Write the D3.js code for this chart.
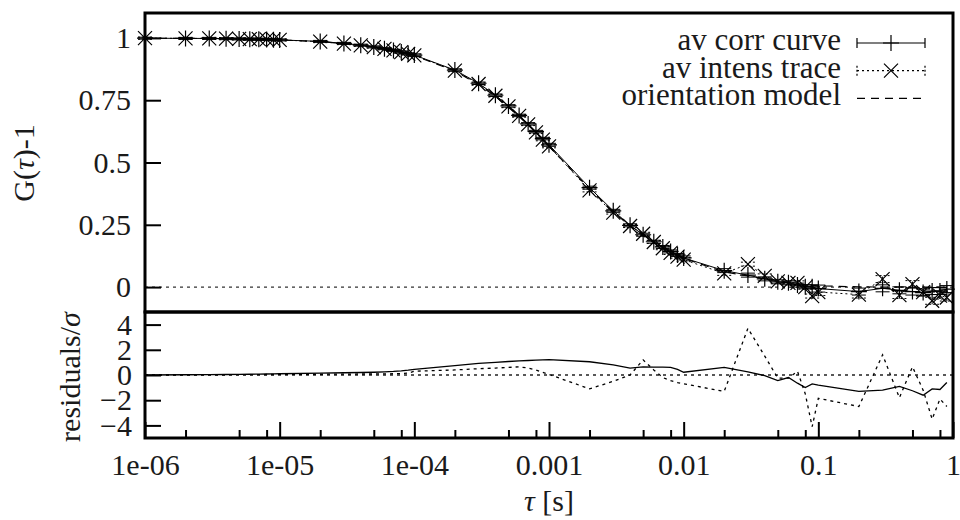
<!DOCTYPE html>
<html>
<head>
<meta charset="utf-8">
<script src="https://cdnjs.cloudflare.com/ajax/libs/d3/7.8.5/d3.min.js"></script>
<style>
body{margin:0;background:#fff}
svg{display:block}
</style>
</head>
<body>
<div class="canvas"></div>
<script>
// lag times, 1..9 per decade
const tau = [1e-6,2e-6,3e-6,4e-6,5e-6,6e-6,7e-6,8e-6,9e-6,
             1e-5,2e-5,3e-5,4e-5,5e-5,6e-5,7e-5,8e-5,9e-5,
             1e-4,2e-4,3e-4,4e-4,5e-4,6e-4,7e-4,8e-4,9e-4,
             0.001,0.002,0.003,0.004,0.005,0.006,0.007,0.008,0.009,
             0.01,0.02,0.03,0.04,0.05,0.06,0.07,0.08,0.09,
             0.1,0.2,0.3,0.4,0.5,0.6,0.7,0.8,0.9]
const model = [0.999,0.998,0.998,0.997,0.996,0.995,0.995,0.994,0.993,
               0.992,0.985,0.977,0.970,0.963,0.956,0.949,0.942,0.935,
               0.929,0.867,0.813,0.765,0.722,0.684,0.650,0.619,0.591,
               0.565,0.394,0.302,0.245,0.206,0.178,0.157,0.140,0.126,
               0.115,0.061,0.045,0.033,0.025,0.019,0.014,0.010,0.007,
               0.005,0.001,0.000,0.000,0.000,0.000,0.000,0.000,0.000]
const corr = [0.999,0.998,0.998,0.997,0.996,0.995,0.995,0.994,0.993,
              0.992,0.986,0.978,0.971,0.964,0.957,0.950,0.943,0.936,
              0.931,0.871,0.818,0.770,0.727,0.689,0.655,0.624,0.596,
              0.571,0.399,0.306,0.248,0.210,0.182,0.161,0.143,0.129,
              0.117,0.066,0.048,0.033,0.021,0.017,0.008,0.001,0.001,
              -0.006,-0.018,-0.005,-0.013,-0.018,-0.022,-0.016,-0.016,-0.008]
const intens = [0.999,0.998,0.998,0.997,0.996,0.995,0.995,0.994,0.993,
                0.992,0.985,0.977,0.970,0.963,0.956,0.950,0.943,0.936,
                0.930,0.869,0.815,0.768,0.725,0.687,0.653,0.621,0.592,
                0.565,0.388,0.299,0.245,0.214,0.181,0.156,0.137,0.122,
                0.110,0.055,0.092,0.045,0.023,0.017,0.017,0.000,-0.036,
                -0.020,-0.030,0.032,-0.032,0.012,-0.020,-0.055,-0.034,-0.042]
const errG = [0.004,0.004,0.004,0.004,0.004,0.004,0.004,0.004,0.004,
              0.004,0.004,0.004,0.004,0.004,0.004,0.004,0.004,0.004,
              0.005,0.005,0.005,0.005,0.005,0.005,0.005,0.005,0.005,
              0.006,0.006,0.006,0.006,0.006,0.006,0.006,0.006,0.006,
              0.008,0.008,0.008,0.008,0.008,0.008,0.008,0.008,0.008,
              0.014,0.014,0.014,0.014,0.014,0.014,0.014,0.014,0.014]
const resCorr = [0,0.02,0.03,0.04,0.05,0.06,0.07,0.08,0.09,
                 0.1,0.15,0.18,0.2,0.22,0.25,0.28,0.32,0.38,
                 0.45,0.75,0.92,1.0,1.07,1.12,1.15,1.18,1.2,
                 1.22,1.05,0.8,0.55,0.65,0.63,0.62,0.6,0.45,
                 0.22,0.6,0.25,-0.05,-0.45,-0.2,-0.65,-1.0,-0.7,
                 -0.8,-1.3,-1.2,-0.9,-1.25,-1.6,-1.1,-1.15,-0.6]
const resIntens = [0,0.01,0.02,0.02,0.03,0.03,0.03,0.04,0.04,
                   0.05,0.06,0.07,0.08,0.08,0.09,0.1,0.12,0.15,
                   0.3,0.4,0.5,0.55,0.6,0.65,0.55,0.4,0.2,
                   0.05,-1.1,-0.5,0.0,1.2,0.4,-0.2,-0.45,-0.6,
                   -0.7,-1.3,3.7,1.5,-0.25,-0.25,0.3,-1.5,-4.1,
                   -1.85,-2.5,1.6,-1.8,0.65,-1.2,-3.5,-1.9,-2.5]

const xTicks = [1e-6,1e-5,1e-4,1e-3,1e-2,1e-1,1]
const xTickLabels = ["1e-06","1e-05","1e-04","0.001","0.01","0.1","1"]
const minorMult = [2,5,8]
const gTicks = [0,0.25,0.5,0.75,1]
const gTickLabels = ["0","0.25","0.5","0.75","1"]
const resTicks = [-4,-2,0,2,4]
const legendLabels = ["av corr curve","av intens trace","orientation model"]

const dim = {width:960, height:520}
const box = {left:145, right:953, top:13, mid:312, bottom:438}
const fontSize = 30
const serif = "'Liberation Serif', 'Times New Roman', serif"
const ink = "#1a1a1a"

const svg = d3.select(".canvas").append("svg").attr("width",dim.width).attr("height",dim.height)
              .style("font-family",serif)

const x = d3.scaleLog().domain([1e-6,1]).range([box.left,box.right])
const yG = d3.scaleLinear().domain([-0.1,1.1]).range([box.mid,box.top])
const yR = d3.scaleLinear().domain([-5,5]).range([box.bottom,box.mid])

const pts = tau.map((t,i)=>({t, model:model[i], corr:corr[i], intens:intens[i], err:errG[i], rc:resCorr[i], ri:resIntens[i]}))

// zero lines
svg.append("line").attr("x1",box.left).attr("x2",box.right).attr("y1",yG(0)).attr("y2",yG(0))
   .attr("stroke","#333").attr("stroke-width",1.3).attr("stroke-dasharray","3,4")
svg.append("line").attr("x1",box.left).attr("x2",box.right).attr("y1",yR(0)).attr("y2",yR(0))
   .attr("stroke","#222").attr("stroke-width",1.5).attr("stroke-dasharray","3,4")

const lineOf = (key,ys) => d3.line().x(d=>x(d.t)).y(d=>ys(d[key]))

const upper = svg.append("g")
upper.append("path").datum(pts).attr("d",lineOf("intens",yG))
   .attr("fill","none").attr("stroke","#000").attr("stroke-width",1).attr("stroke-dasharray","2,3")
upper.append("path").datum(pts).attr("d",lineOf("corr",yG))
   .attr("fill","none").attr("stroke","#000").attr("stroke-width",1)
upper.append("path").datum(pts).attr("d",lineOf("model",yG))
   .attr("fill","none").attr("stroke","#000").attr("stroke-width",1.2).attr("stroke-dasharray","8,6")

const plusPath = "M-8,0H8M0,-8V8"
const crossPath = "M-7,-7L7,7M-7,7L7,-7"
const capW = 7

const errBars = (key,dash) => {
  const g = upper.append("g").attr("stroke","#000").attr("stroke-width",1).attr("fill","none")
  if(dash) g.attr("stroke-dasharray",dash)
  g.selectAll("path").data(pts).enter().append("path")
   .attr("d",d=>{
     const px = x(d.t), lo = yG(d[key]-d.err), hi = yG(d[key]+d.err)
     return `M${px},${lo}V${hi}M${px-capW},${lo}H${px+capW}M${px-capW},${hi}H${px+capW}`
   })
}
errBars("corr",null)
errBars("intens","2,2")

upper.append("g").selectAll("path").data(pts).enter().append("path")
   .attr("transform",d=>`translate(${x(d.t)},${yG(d.corr)})`)
   .attr("d",plusPath).attr("stroke","#000").attr("stroke-width",1.2)
upper.append("g").selectAll("path").data(pts).enter().append("path")
   .attr("transform",d=>`translate(${x(d.t)},${yG(d.intens)})`)
   .attr("d",crossPath).attr("stroke","#000").attr("stroke-width",1.2)

// residuals
svg.append("path").datum(pts).attr("d",lineOf("ri",yR))
   .attr("fill","none").attr("stroke","#000").attr("stroke-width",1.3).attr("stroke-dasharray","3,4")
svg.append("path").datum(pts).attr("d",lineOf("rc",yR))
   .attr("fill","none").attr("stroke","#000").attr("stroke-width",1.3)

// axes
const styleAxis = g => {
  g.select(".domain").remove()
  g.selectAll(".tick line").attr("stroke","#000").attr("stroke-width",2)
  g.selectAll("text").attr("fill",ink).style("font-family",serif)
  g.attr("font-size",fontSize).style("font-family",serif)
}
svg.append("g").attr("transform",`translate(${box.left},0)`)
   .call(d3.axisLeft(yG).tickValues(gTicks).tickFormat((d,i)=>gTickLabels[i]).tickSize(-16).tickPadding(14))
   .call(styleAxis)
svg.append("g").attr("transform",`translate(${box.left},0)`)
   .call(d3.axisLeft(yR).tickValues(resTicks).tickSize(-16).tickPadding(13))
   .call(styleAxis)
const minorTicks = d3.range(-6,0).flatMap(p=>minorMult.map(m=>m*Math.pow(10,p)))
svg.append("g").attr("transform",`translate(0,${box.bottom})`)
   .call(d3.axisBottom(x).tickValues(minorTicks).tickFormat("").tickSize(-8))
   .call(styleAxis)
svg.append("g").attr("transform",`translate(0,${box.bottom})`)
   .call(d3.axisBottom(x).tickValues(xTicks).tickFormat((d,i)=>xTickLabels[i]).tickSize(-16).tickPadding(16))
   .call(styleAxis)

// frames
svg.append("rect").attr("x",box.left).attr("y",box.top).attr("width",box.right-box.left).attr("height",box.mid-box.top)
   .attr("fill","none").attr("stroke","#000").attr("stroke-width",3)
svg.append("rect").attr("x",box.left).attr("y",box.mid).attr("width",box.right-box.left).attr("height",box.bottom-box.mid)
   .attr("fill","none").attr("stroke","#000").attr("stroke-width",3)

// titles
const title = (tx,ty,rot) => svg.append("text").attr("text-anchor","middle").style("font-family",serif)
   .attr("font-size",fontSize).attr("fill",ink)
   .attr("transform",`translate(${tx},${ty}) rotate(${rot})`)
const yt = title(34,163,-90)
yt.append("tspan").text("G(")
yt.append("tspan").attr("font-style","italic").text("τ")
yt.append("tspan").text(")-1")
const rt = title(80,377,-90)
rt.append("tspan").text("residuals/")
rt.append("tspan").attr("font-style","italic").text("σ")
const xt = title((box.left+box.right)/2,511,0)
xt.append("tspan").attr("font-style","italic").text("τ")
xt.append("tspan").text(" [s]")

// legend
const legend = svg.append("g")
const rowY = i => 43 + 27.7*i
const sx0 = 857, sx1 = 925, smid = 891
legend.selectAll("text").data(legendLabels).enter().append("text")
   .attr("x",841).attr("y",(d,i)=>rowY(i)+7).attr("text-anchor","end").style("font-family",serif)
   .attr("font-size",fontSize+1).attr("fill",ink).text(d=>d)
const sample = [
  {dash:null, mark:plusPath, caps:true},
  {dash:"2,3", mark:crossPath, caps:true},
  {dash:"8,6", mark:null, caps:false}
]
sample.forEach((s,i)=>{
  const cy = rowY(i)
  const g = legend.append("g").attr("stroke","#000").attr("stroke-width",1.2).attr("fill","none")
  g.append("line").attr("x1",sx0).attr("x2",sx1).attr("y1",cy).attr("y2",cy).attr("stroke-dasharray",s.dash)
  if(s.caps){
    g.append("path").attr("d",`M${sx0},${cy-5}V${cy+5}M${sx1},${cy-5}V${cy+5}`).attr("stroke-dasharray",s.dash ? "2,2" : null)
  }
  if(s.mark) g.append("path").attr("transform",`translate(${smid},${cy})`).attr("d",s.mark)
})
</script>
</body>
</html>
